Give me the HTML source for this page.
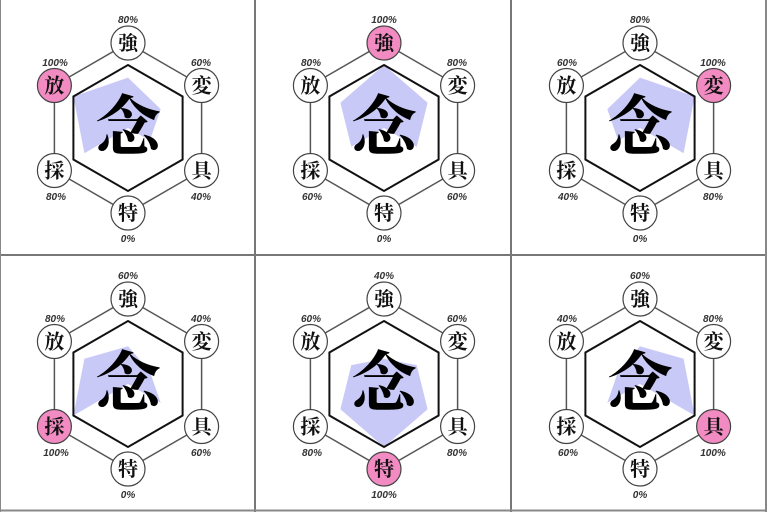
<!DOCTYPE html>
<html><head><meta charset="utf-8"><style>
html,body{margin:0;padding:0;background:#fff;}
svg{display:block;}
.n{fill:#fff;stroke:#444;stroke-width:1.2;}
.h{fill:#f28bc2;stroke:#444;stroke-width:1.2;}
.c{font-family:"Noto Serif CJK SC","Noto Sans CJK SC",serif;font-size:20px;fill:#111;text-anchor:middle;font-weight:bold;}
.big{font-family:"Noto Serif CJK SC","Noto Sans CJK SC",serif;font-size:66px;fill:#000;text-anchor:middle;font-weight:700;}
.p{font-family:"Liberation Sans",sans-serif;font-size:10px;font-weight:bold;font-style:italic;fill:#333;text-anchor:middle;}
</style></head><body>
<svg width="767" height="512" viewBox="0 0 767 512" xmlns="http://www.w3.org/2000/svg">
<defs>
<g id="frame">
<polygon points="128,43 201.6,85.5 201.6,170.5 128,213 54.4,170.5 54.4,85.5" fill="none" stroke="#555" stroke-width="1.5"/>
</g>
<g id="inner">
<polygon points="128,65 182.6,96.5 182.6,159.5 128,191 73.4,159.5 73.4,96.5" fill="none" stroke="#111" stroke-width="2"/>
</g>
</defs>
<rect x="0" y="0" width="767" height="512" fill="#fff"/>

<g transform="translate(0,0)">
<use href="#frame"/>
<polygon points="128,77.6 160.7,109.1 149.8,140.6 128,128 84.4,153.2 73.4,96.5" fill="#c9c9f7"/>
<use href="#inner"/>
<text x="128" y="150" class="big">念</text>
<circle cx="128" cy="43" r="17" class="n"/><text x="128" y="50" class="c">強</text>
<circle cx="201.6" cy="85.5" r="17" class="n"/><text x="201.6" y="92.5" class="c">変</text>
<circle cx="201.6" cy="170.5" r="17" class="n"/><text x="201.6" y="177.5" class="c">具</text>
<circle cx="128" cy="213" r="17" class="n"/><text x="128" y="220" class="c">特</text>
<circle cx="54.4" cy="170.5" r="17" class="n"/><text x="54.4" y="177.5" class="c">採</text>
<circle cx="54.4" cy="85.5" r="17" class="h"/><text x="54.4" y="92.5" class="c">放</text>
<text x="128" y="23" class="p">80%</text><text x="201" y="66" class="p">60%</text><text x="201" y="200" class="p">40%</text>
<text x="128" y="242" class="p">0%</text><text x="56" y="200" class="p">80%</text><text x="55" y="66" class="p">100%</text>
</g>

<g transform="translate(256,0)">
<use href="#frame"/>
<polygon points="128,65 171.6,102.8 160.7,146.9 128,128 95.3,146.9 84.4,102.8" fill="#c9c9f7"/>
<use href="#inner"/>
<text x="128" y="150" class="big">念</text>
<circle cx="128" cy="43" r="17" class="h"/><text x="128" y="50" class="c">強</text>
<circle cx="201.6" cy="85.5" r="17" class="n"/><text x="201.6" y="92.5" class="c">変</text>
<circle cx="201.6" cy="170.5" r="17" class="n"/><text x="201.6" y="177.5" class="c">具</text>
<circle cx="128" cy="213" r="17" class="n"/><text x="128" y="220" class="c">特</text>
<circle cx="54.4" cy="170.5" r="17" class="n"/><text x="54.4" y="177.5" class="c">採</text>
<circle cx="54.4" cy="85.5" r="17" class="n"/><text x="54.4" y="92.5" class="c">放</text>
<text x="128" y="23" class="p">100%</text><text x="201" y="66" class="p">80%</text><text x="201" y="200" class="p">60%</text>
<text x="128" y="242" class="p">0%</text><text x="56" y="200" class="p">60%</text><text x="55" y="66" class="p">80%</text>
</g>

<g transform="translate(512,0)">
<use href="#frame"/>
<polygon points="128,77.6 182.6,96.5 171.6,153.2 128,128 106.2,140.6 95.3,109.1" fill="#c9c9f7"/>
<use href="#inner"/>
<text x="128" y="150" class="big">念</text>
<circle cx="128" cy="43" r="17" class="n"/><text x="128" y="50" class="c">強</text>
<circle cx="201.6" cy="85.5" r="17" class="h"/><text x="201.6" y="92.5" class="c">変</text>
<circle cx="201.6" cy="170.5" r="17" class="n"/><text x="201.6" y="177.5" class="c">具</text>
<circle cx="128" cy="213" r="17" class="n"/><text x="128" y="220" class="c">特</text>
<circle cx="54.4" cy="170.5" r="17" class="n"/><text x="54.4" y="177.5" class="c">採</text>
<circle cx="54.4" cy="85.5" r="17" class="n"/><text x="54.4" y="92.5" class="c">放</text>
<text x="128" y="23" class="p">80%</text><text x="201" y="66" class="p">100%</text><text x="201" y="200" class="p">80%</text>
<text x="128" y="242" class="p">0%</text><text x="56" y="200" class="p">40%</text><text x="55" y="66" class="p">60%</text>
</g>

<g transform="translate(0,256)">
<use href="#frame"/>
<polygon points="128,90.2 149.8,115.4 160.7,146.9 128,128 73.4,159.5 84.4,102.8" fill="#c9c9f7"/>
<use href="#inner"/>
<text x="128" y="150" class="big">念</text>
<circle cx="128" cy="43" r="17" class="n"/><text x="128" y="50" class="c">強</text>
<circle cx="201.6" cy="85.5" r="17" class="n"/><text x="201.6" y="92.5" class="c">変</text>
<circle cx="201.6" cy="170.5" r="17" class="n"/><text x="201.6" y="177.5" class="c">具</text>
<circle cx="128" cy="213" r="17" class="n"/><text x="128" y="220" class="c">特</text>
<circle cx="54.4" cy="170.5" r="17" class="h"/><text x="54.4" y="177.5" class="c">採</text>
<circle cx="54.4" cy="85.5" r="17" class="n"/><text x="54.4" y="92.5" class="c">放</text>
<text x="128" y="23" class="p">60%</text><text x="201" y="66" class="p">40%</text><text x="201" y="200" class="p">60%</text>
<text x="128" y="242" class="p">0%</text><text x="56" y="200" class="p">100%</text><text x="55" y="66" class="p">80%</text>
</g>

<g transform="translate(256,256)">
<use href="#frame"/>
<polygon points="128,102.8 160.7,109.1 171.6,153.2 128,191 84.4,153.2 95.3,109.1" fill="#c9c9f7"/>
<use href="#inner"/>
<text x="128" y="150" class="big">念</text>
<circle cx="128" cy="43" r="17" class="n"/><text x="128" y="50" class="c">強</text>
<circle cx="201.6" cy="85.5" r="17" class="n"/><text x="201.6" y="92.5" class="c">変</text>
<circle cx="201.6" cy="170.5" r="17" class="n"/><text x="201.6" y="177.5" class="c">具</text>
<circle cx="128" cy="213" r="17" class="h"/><text x="128" y="220" class="c">特</text>
<circle cx="54.4" cy="170.5" r="17" class="n"/><text x="54.4" y="177.5" class="c">採</text>
<circle cx="54.4" cy="85.5" r="17" class="n"/><text x="54.4" y="92.5" class="c">放</text>
<text x="128" y="23" class="p">40%</text><text x="201" y="66" class="p">60%</text><text x="201" y="200" class="p">80%</text>
<text x="128" y="242" class="p">100%</text><text x="56" y="200" class="p">80%</text><text x="55" y="66" class="p">60%</text>
</g>

<g transform="translate(512,256)">
<use href="#frame"/>
<polygon points="128,90.2 171.6,102.8 182.6,159.5 128,128 95.3,146.9 106.2,115.4" fill="#c9c9f7"/>
<use href="#inner"/>
<text x="128" y="150" class="big">念</text>
<circle cx="128" cy="43" r="17" class="n"/><text x="128" y="50" class="c">強</text>
<circle cx="201.6" cy="85.5" r="17" class="n"/><text x="201.6" y="92.5" class="c">変</text>
<circle cx="201.6" cy="170.5" r="17" class="h"/><text x="201.6" y="177.5" class="c">具</text>
<circle cx="128" cy="213" r="17" class="n"/><text x="128" y="220" class="c">特</text>
<circle cx="54.4" cy="170.5" r="17" class="n"/><text x="54.4" y="177.5" class="c">採</text>
<circle cx="54.4" cy="85.5" r="17" class="n"/><text x="54.4" y="92.5" class="c">放</text>
<text x="128" y="23" class="p">60%</text><text x="201" y="66" class="p">80%</text><text x="201" y="200" class="p">100%</text>
<text x="128" y="242" class="p">0%</text><text x="56" y="200" class="p">60%</text><text x="55" y="66" class="p">40%</text>
</g>

<line x1="255" y1="0" x2="255" y2="512" stroke="#777" stroke-width="2"/>
<line x1="511" y1="0" x2="511" y2="512" stroke="#777" stroke-width="2"/>
<line x1="0" y1="255" x2="767" y2="255" stroke="#777" stroke-width="2"/>
<line x1="0.5" y1="0" x2="0.5" y2="512" stroke="#888" stroke-width="1"/>
<line x1="766" y1="0" x2="766" y2="512" stroke="#888" stroke-width="2"/>
<line x1="0" y1="510.5" x2="767" y2="510.5" stroke="#888" stroke-width="2"/>
</svg>
</body></html>
